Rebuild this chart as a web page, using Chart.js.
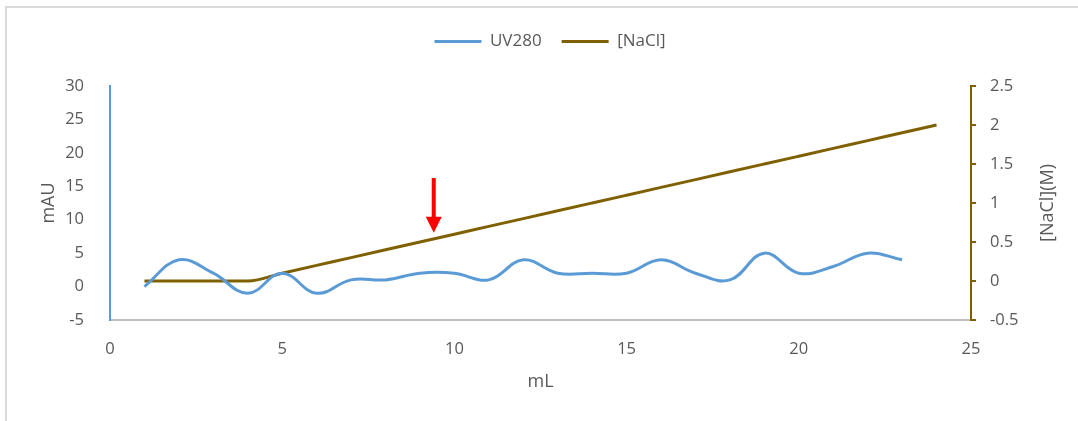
<!DOCTYPE html>
<html>
<head>
<meta charset="utf-8">
<script src="https://cdn.jsdelivr.net/npm/chart.js@4"></script>
<style>
  html, body { margin: 0; padding: 0; background: #ffffff; }
  #wrap { position: relative; width: 1078px; height: 421px; }
  #frame { position: absolute; left: 5px; top: 6px; right: -2px; bottom: -2px; border-left: 2px solid #d9d9d9; border-top: 2px solid #d9d9d9; }
  canvas { position: absolute; left: 0; top: 0; }
</style>
</head>
<body>
<div id="wrap">
  <div id="frame"></div>
  <canvas id="c" width="1078" height="421"></canvas>
</div>
<script>
// ---- data ----
const uvVolumes = [1, 2, 3, 4, 5, 6, 7, 8, 9, 10, 11, 12, 13, 14, 15, 16, 17, 18, 19, 20, 21, 22, 23];
const uvValues  = [0, 4, 2, -1, 2, -1, 1, 1, 2, 2, 1, 4, 2, 2, 2, 4, 2, 1, 5, 2, 3, 5, 4];

const naclVolumes = [1, 2, 3, 4, 5, 6, 7, 8, 9, 10, 11, 12, 13, 14, 15, 16, 17, 18, 19, 20, 21, 22, 23, 24];
const naclValues  = [0, 0, 0, 0, 0.1, 0.2, 0.3, 0.4, 0.5, 0.6, 0.7, 0.8, 0.9, 1.0, 1.1, 1.2, 1.3, 1.4, 1.5, 1.6, 1.7, 1.8, 1.9, 2.0];

const seriesNames = ['UV280', '[NaCl]'];
const xTitle = 'mL';
const yLeftTitle = 'mAU';
const yRightTitle = '[NaCl](M)';

// arrow annotation (x in mL, y in [NaCl] axis units)
const arrowX = 9.4;
const arrowFromY = 1.32;
const arrowToY = 0.62;

// ---- styles ----
const BLUE = '#5b9bd5';
const BROWN = '#7f6000';
const TEXT = '#595959';
const FONT = "'Open Sans', 'Liberation Sans', sans-serif";
const TICK_SIZE = 16.5;
const TITLE_SIZE = 18;

const PAD_L = 34, PAD_R = 12, PAD_B = 24, PAD_T = 13;
const AREA_L = 110, AREA_R = 971, AREA_B = 320, AREA_T = 86, CANVAS_W = 1078, CANVAS_H = 421;

const legendGapPlugin = {
  id: 'legendGap',
  beforeLayout(chart) {
    const lg = chart.legend;
    if (lg && !lg._gapPatched) {
      const orig = lg.fit.bind(lg);
      lg.fit = function () {
        orig();
        this.height = AREA_T - PAD_T;
      };
      lg._gapPatched = true;
    }
  }
};

const arrowPlugin = {
  id: 'arrow',
  afterDatasetsDraw(chart) {
    const ctx = chart.ctx;
    const x = chart.scales.x.getPixelForValue(arrowX);
    const y0 = chart.scales.y1.getPixelForValue(arrowFromY);
    const y1 = chart.scales.y1.getPixelForValue(arrowToY);
    const headH = 16, headW = 8;
    ctx.save();
    ctx.fillStyle = '#ff0000';
    ctx.fillRect(x - 2, y0, 4, (y1 - headH) - y0 + 1);
    ctx.beginPath();
    ctx.moveTo(x - headW, y1 - headH);
    ctx.lineTo(x + headW, y1 - headH);
    ctx.lineTo(x, y1);
    ctx.closePath();
    ctx.fill();
    ctx.restore();
  }
};

const rightTitlePlugin = {
  id: 'rightTitle',
  afterDraw(chart) {
    const ctx = chart.ctx;
    const s = chart.scales.y1;
    const cx = s.right - 18;
    const cy = (chart.chartArea.top + chart.chartArea.bottom) / 2;
    ctx.save();
    ctx.translate(cx, cy);
    ctx.rotate(-Math.PI / 2);
    ctx.fillStyle = TEXT;
    ctx.font = TITLE_SIZE + 'px ' + FONT;
    ctx.textAlign = 'center';
    ctx.textBaseline = 'middle';
    ctx.fillText(yRightTitle, 0, 0);
    ctx.restore();
  }
};

new Chart(document.getElementById('c'), {
  type: 'line',
  data: {
    datasets: [
      {
        label: seriesNames[0],
        data: uvVolumes.map((v, i) => ({ x: v, y: uvValues[i] })),
        borderColor: BLUE,
        backgroundColor: BLUE,
        borderWidth: 3,
        pointRadius: 0,
        tension: 0.4,
        yAxisID: 'y'
      },
      {
        label: seriesNames[1],
        data: naclVolumes.map((v, i) => ({ x: v, y: naclValues[i] })),
        borderColor: BROWN,
        backgroundColor: BROWN,
        borderWidth: 3,
        pointRadius: 0,
        cubicInterpolationMode: 'monotone',
        yAxisID: 'y1'
      }
    ]
  },
  options: {
    responsive: false,
    animation: false,
    layout: { padding: { left: PAD_L, right: PAD_R, top: PAD_T, bottom: PAD_B } },
    plugins: {
      legend: {
        position: 'top',
        labels: {
          usePointStyle: true,
          pointStyle: 'line',
          pointStyleWidth: 47,
          boxWidth: 47,
          boxHeight: 3,
          color: TEXT,
          font: { family: FONT, size: 17 },
          padding: 20
        }
      },
      tooltip: { enabled: false }
    },
    scales: {
      x: {
        type: 'linear',
        min: 0, max: 25,
        ticks: { stepSize: 5, color: TEXT, font: { family: FONT, size: TICK_SIZE }, padding: 11 },
        grid: { display: false },
        border: { display: true, color: '#bfbfbf', width: 2 },
        title: { display: true, text: xTitle, color: TEXT, font: { family: FONT, size: TITLE_SIZE }, padding: { top: 6 } },
        afterFit(s) { s.height = CANVAS_H - PAD_B - AREA_B; }
      },
      y: {
        position: 'left',
        min: -5, max: 30,
        ticks: { stepSize: 5, color: TEXT, font: { family: FONT, size: TICK_SIZE }, padding: 18 },
        grid: { display: false },
        border: { display: true, color: BLUE, width: 2 },
        title: { display: true, text: yLeftTitle, color: TEXT, font: { family: FONT, size: TITLE_SIZE } },
        afterFit(s) { s.width = AREA_L - PAD_L; }
      },
      y1: {
        position: 'right',
        min: -0.5, max: 2.5,
        ticks: {
          stepSize: 0.5, color: TEXT, font: { family: FONT, size: TICK_SIZE }, padding: 14,
          callback: (v) => String(Math.round(v * 10) / 10)
        },
        grid: { drawOnChartArea: false, drawTicks: true, tickLength: 5, color: BROWN, lineWidth: 2 },
        border: { display: true, color: BROWN, width: 2 },
        title: { display: false },
        afterFit(s) { s.width = (CANVAS_W - PAD_R) - AREA_R; }
      }
    }
  },
  plugins: [legendGapPlugin, arrowPlugin, rightTitlePlugin]
});
</script>
</body>
</html>
